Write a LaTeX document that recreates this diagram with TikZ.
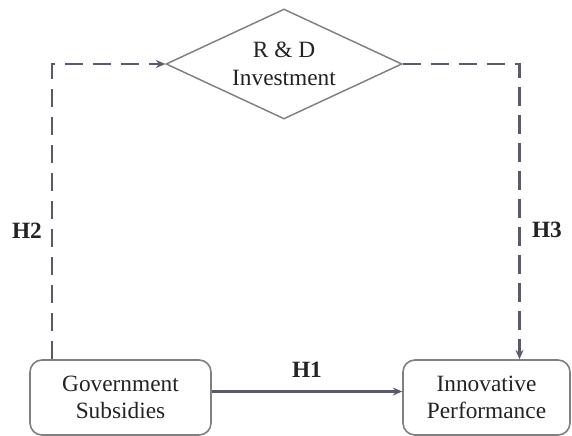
\documentclass[tikz,border=0pt]{standalone}
\usepackage{fontspec}
\setmainfont{Liberation Serif}
\usetikzlibrary{shapes,arrows.meta}
\definecolor{linegray}{RGB}{92,88,110}
\definecolor{boxgray}{RGB}{128,128,128}
\definecolor{txtgray}{RGB}{35,35,35}
\newcommand{\diagfont}{\fontsize{17.5}{20.5}\selectfont}
\tikzstyle{factor}=[draw=boxgray,line width=1.2pt,rounded corners=9pt,align=center,text=txtgray,font=\diagfont,minimum height=56.25pt,inner sep=0pt]
\tikzstyle{mediator}=[diamond,aspect=2.15,draw=boxgray,line width=1.1pt,align=center,text=txtgray,font=\diagfont,minimum width=177pt,minimum height=82.5pt,inner sep=0pt]
\tikzstyle{hyp}=[text=txtgray,font=\diagfont\bfseries]
\tikzstyle{link}=[draw=linegray,line width=1.6pt,-{Stealth[length=7pt,width=6pt]}]
\tikzstyle{dashlink}=[link,line width=1.8pt,dash pattern=on 14pt off 7pt]
\newcommand{\tikzpicunit}{7.5pt}

\begin{document}
\begin{tikzpicture}[x=\tikzpicunit,y=\tikzpicunit]
    \useasboundingbox (0,0) rectangle (57.2,43.6);
    \node[factor,minimum width=135.75pt] (gov) at (12.05,3.85) {Government\\Subsidies};
    \node[factor,minimum width=125.25pt] (inn) at (48.65,3.85) {Innovative\\Performance};
    \node[mediator] (rd) at (28.4,37.2) {R \& D\\Investment};
    \coordinate (hTwo) at (5.2,37.2);
    \coordinate (hThree) at (51.95,37.2);
    % direct effect
    \draw[link] (gov.east |- 0,4.45) -- node[hyp,above=6pt] {H1} (inn.west |- 0,4.45);
    % mediated path
    \draw[dashlink] (gov.north -| hTwo) -- (hTwo) -- (rd.west);
    \draw[dashlink] (rd.east) -- (hThree) -- (inn.north -| hThree);
    \node[hyp] (h2) at (2.7,20.5) {H2};
    \node[hyp] (h3) at (54.7,20.6) {H3};
\end{tikzpicture}
\end{document}
